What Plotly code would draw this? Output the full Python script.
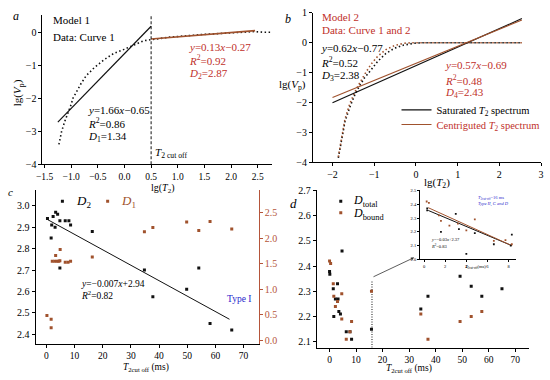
import plotly.graph_objects as go

FONT = "Liberation Serif"
BLACK = "#111111"
BROWN = "#a0522d"
RED = "#c0302a"
BLUE = "#1f1fcc"
RAXIS = "#b5553a"

# ---------------- Panel a : Model 1, Curve 1 ----------------
a_lgT2 = [-1.23, -1.18, -1.12, -1.06, -1.00, -0.97, -0.90, -0.82, -0.72, -0.57, -0.38,
          -0.20, -0.01, 0.17, 0.36, 0.48, 0.85, 1.46, 2.08, 2.44, 2.60, 2.75]
a_lgVp = [-3.40, -3.01, -2.70, -2.45, -2.19, -2.01, -1.79, -1.57, -1.32, -1.08, -0.83,
          -0.64, -0.52, -0.39, -0.26, -0.23, -0.15, -0.07, -0.01, 0.02, 0.0, 0.0]
a_fit1_x = [-1.25, 0.5]
a_fit1_k, a_fit1_b = 1.66, -0.65
a_fit2_x = [0.5, 2.45]
a_fit2_k, a_fit2_b = 0.13, -0.27
a_cutoff = 0.5

# ---------------- Panel b : Model 2, Curves 1 and 2 ----------------
b_sat_x = [-1.86, -1.78, -1.70, -1.58, -1.47, -1.35, -1.23, -1.07, -0.92, -0.72, -0.52,
           -0.29, -0.05, 0.19, 0.6, 1.0, 1.5, 2.0, 2.54]
b_sat_y = [-3.85, -3.17, -2.63, -2.14, -1.76, -1.44, -1.17, -0.90, -0.63, -0.36, -0.19,
           -0.08, -0.02, 0.0, 0.0, 0.0, 0.0, 0.0, 0.0]
b_cen_x = [-1.86, -1.78, -1.70, -1.58, -1.43, -1.23, -1.07, -0.92, -0.72, -0.52, -0.29,
           -0.05, 0.4, 1.0, 1.5, 2.0, 2.54]
b_cen_y = [-3.82, -3.12, -2.55, -2.02, -1.55, -1.06, -0.71, -0.46, -0.23, -0.10, -0.02,
           0.0, 0.0, 0.0, 0.0, 0.0, 0.0]
b_fit_x = [-2.0, 2.54]
b_sat_k, b_sat_b = 0.62, -0.77
b_cen_k, b_cen_b = 0.57, -0.69

# ---------------- Panel c : D2 (left) and D1 (right) ----------------
c_T2_D2 = [0.4, 1.9, 1.7, 2.4, 3.3, 4.0, 3.1, 4.8, 6.7, 8.0, 8.6, 4.8, 16.3, 34.8, 37.8,
           49.8, 54.1, 58.1, 65.8]
c_D2 = [2.94, 2.91, 2.85, 2.95, 2.97, 2.96, 2.90, 2.93, 2.93, 2.93, 2.91, 2.71, 2.88, 2.70,
        2.575, 2.61, 2.71, 2.45, 2.42]
c_T2_D1 = [0.2, 1.7, 1.7, 3.3, 2.1, 3.0, 3.8, 4.4, 4.8, 4.9, 6.7, 7.7, 8.6, 16.3, 34.8,
           37.8, 49.8, 54.1, 58.1, 65.8]
c_D1 = [0.48, 0.41, 0.24, 1.66, 1.55, 1.55, 1.55, 1.55, 1.56, 1.78, 1.53, 1.53, 1.55, 1.63,
        2.13, 2.21, 2.32, 2.15, 2.33, 2.18]
c_fit_x = [0.5, 65.0]
c_fit_y = [2.935, 2.47]

# ---------------- Panel d : D_total and D_bound ----------------
d_T2_tot = [0, 0.1, 4.7, 1.4, 3.0, 2.2, 3.2, 3.0, 3.5, 4.1, 1.6, 6.3, 7.7, 8.3, 15.8, 34.4,
            37.1, 49.2, 53.4, 57.4, 65.0]
d_Dtot = [2.379, 2.368, 2.46, 2.31, 2.33, 2.27, 2.27, 2.26, 2.22, 2.21, 2.20, 2.14, 2.14,
          2.11, 2.15, 2.23, 2.28, 2.36, 2.32, 2.28, 2.31]
d_T2_bnd = [0, 0.4, 1.4, 1.6, 2.2, 3.0, 4.6, 4.6, 8.3, 6.3, 7.7, 15.8, 34.4, 37.1, 49.2,
            53.4, 57.4]
d_Dbnd = [2.42, 2.41, 2.33, 2.28, 2.24, 2.26, 2.29, 2.19, 2.18, 2.11, 2.14, 2.30, 2.21,
          2.11, 2.18, 2.20, 2.22]
d_cutoff = 16
d_cut_y = [2.077, 2.34]

# ---------------- Inset (T2 cut-off < 16 ms) ----------------
i_x_blk = [0.3, 0.3, 1.6, 3.0, 3.3, 4.0, 4.8, 6.6, 8.2, 8.3]
i_y_blk = [2.37, 2.355, 2.20, 2.33, 2.22, 2.04, 2.19, 2.11, 2.10, 2.18]
i_x_brn = [0.25, 0.46, 1.4, 1.6, 2.4, 3.2, 4.0, 4.8, 6.6, 7.7, 8.3]
i_y_brn = [2.42, 2.41, 2.32, 2.28, 2.245, 2.26, 2.21, 2.29, 2.135, 2.14, 2.11]
i_fit_x = [0.4, 8.3]
i_fit_blk = [2.355, 2.10]
i_fit_brn = [2.375, 2.10]


def line_y(xs, k, b):
    return [k * x + b for x in xs]


fig = go.Figure()

# Panel a traces
fig.add_trace(go.Scatter(x=a_lgT2, y=a_lgVp, mode="lines", xaxis="x", yaxis="y",
                         line=dict(color=BLACK, width=1.6, dash="1.5px,2.5px"), showlegend=False))
fig.add_trace(go.Scatter(x=a_fit1_x, y=line_y(a_fit1_x, a_fit1_k, a_fit1_b), mode="lines",
                         xaxis="x", yaxis="y", line=dict(color=BLACK, width=1.2), showlegend=False))
fig.add_trace(go.Scatter(x=a_fit2_x, y=line_y(a_fit2_x, a_fit2_k, a_fit2_b), mode="lines",
                         xaxis="x", yaxis="y", line=dict(color=BROWN, width=1.6), showlegend=False))
fig.add_trace(go.Scatter(x=[a_cutoff, a_cutoff], y=[-4, 0.53], mode="lines", xaxis="x", yaxis="y",
                         line=dict(color=BLACK, width=1, dash="3px,2px"), showlegend=False))

# Panel b traces
fig.add_trace(go.Scatter(x=b_sat_x, y=b_sat_y, mode="lines", xaxis="x2", yaxis="y2",
                         line=dict(color=BLACK, width=1.6, dash="1.5px,2.5px"), showlegend=False))
fig.add_trace(go.Scatter(x=b_cen_x, y=b_cen_y, mode="lines", xaxis="x2", yaxis="y2",
                         line=dict(color=BROWN, width=1.6, dash="1.5px,2.5px"), showlegend=False))
fig.add_trace(go.Scatter(x=b_fit_x, y=line_y(b_fit_x, b_sat_k, b_sat_b), mode="lines",
                         xaxis="x2", yaxis="y2", line=dict(color=BLACK, width=1.1),
                         name="Saturated <i>T</i><sub>2</sub> spectrum", legend="legend"))
fig.add_trace(go.Scatter(x=b_fit_x, y=line_y(b_fit_x, b_cen_k, b_cen_b), mode="lines",
                         xaxis="x2", yaxis="y2", line=dict(color=BROWN, width=1.1),
                         name="<span style='color:%s'>Centriguted <i>T</i><sub>2</sub> spectrum</span>" % RED,
                         legend="legend4"))

# Panel c traces (legend shows the marker only; its label is an annotation)
fig.add_trace(go.Scatter(x=c_fit_x, y=c_fit_y, mode="lines", xaxis="x3", yaxis="y3",
                         line=dict(color=BLACK, width=1), showlegend=False))
fig.add_trace(go.Scatter(x=c_T2_D2, y=c_D2, mode="markers", xaxis="x3", yaxis="y3",
                         marker=dict(color=BLACK, size=3, symbol="square"),
                         name=" ", legend="legend2"))
fig.add_trace(go.Scatter(x=c_T2_D1, y=c_D1, mode="markers", xaxis="x3", yaxis="y6",
                         marker=dict(color=BROWN, size=3, symbol="square"),
                         name=" ", legend="legend5"))

# Panel d traces
fig.add_trace(go.Scatter(x=[d_cutoff, d_cutoff], y=d_cut_y, mode="lines", xaxis="x4", yaxis="y4",
                         line=dict(color=BLACK, width=1, dash="1px,1.5px"), showlegend=False))
fig.add_trace(go.Scatter(x=d_T2_tot, y=d_Dtot, mode="markers", xaxis="x4", yaxis="y4",
                         marker=dict(color=BLACK, size=3, symbol="square"),
                         name=" ", legend="legend3"))
fig.add_trace(go.Scatter(x=d_T2_bnd, y=d_Dbnd, mode="markers", xaxis="x4", yaxis="y4",
                         marker=dict(color=BROWN, size=3, symbol="square"),
                         name=" ", legend="legend6"))

# Inset traces
fig.add_trace(go.Scatter(x=i_fit_x, y=i_fit_blk, mode="lines", xaxis="x5", yaxis="y5",
                         line=dict(color=BLACK, width=1), showlegend=False))
fig.add_trace(go.Scatter(x=i_fit_x, y=i_fit_brn, mode="lines", xaxis="x5", yaxis="y5",
                         line=dict(color=BROWN, width=1), showlegend=False))
fig.add_trace(go.Scatter(x=i_x_blk, y=i_y_blk, mode="markers", xaxis="x5", yaxis="y5",
                         marker=dict(color=BLACK, size=1.8, symbol="square"), showlegend=False))
fig.add_trace(go.Scatter(x=i_x_brn, y=i_y_brn, mode="markers", xaxis="x5", yaxis="y5",
                         marker=dict(color=BROWN, size=1.8, symbol="square"), showlegend=False))


def axis(**kw):
    d = dict(showgrid=False, zeroline=False, showline=True, linecolor="black", linewidth=1,
             ticks="outside", ticklen=3, tickwidth=1, tickcolor="black",
             tickfont=dict(size=10, color="black", family=FONT))
    d.update(kw)
    return d


W, H = 550, 380


def px(x):
    return x / W


def py(y):
    return 1 - y / H


def leg(x, y, size):
    return dict(x=px(x), y=py(y), xanchor="left", yanchor="middle", bgcolor="rgba(0,0,0,0)",
                font=dict(size=size, family=FONT, color="black"), itemwidth=30,
                tracegroupgap=0)


fig.update_layout(
    width=W, height=H, margin=dict(l=0, r=0, t=0, b=0),
    paper_bgcolor="white", plot_bgcolor="white",
    font=dict(family=FONT, color="black", size=10),
    xaxis=axis(domain=[px(37), px(270)], range=[-1.54, 2.76], anchor="y", tick0=-1.5, dtick=0.5,
               tickformat=".1f", tickfont=dict(size=9.5, color="black", family=FONT)),
    yaxis=axis(domain=[py(164), py(10)], range=[-4, 0.53], anchor="x", dtick=1),
    xaxis2=axis(domain=[px(312), px(544)], range=[-2.47, 3], anchor="y2", dtick=1),
    yaxis2=axis(domain=[py(162), py(8)], range=[-4, 1], anchor="x2", dtick=1),
    xaxis3=axis(domain=[px(30), px(257)], range=[-3.85, 75.4], anchor="y3", tick0=0, dtick=10,
                tickfont=dict(size=9.5, color="black", family=FONT)),
    yaxis3=axis(domain=[py(349), py(190)], range=[2.355, 3.076], anchor="x3", dtick=0.1,
                tickformat=".1f"),
    yaxis6=axis(overlaying="y3", side="right", anchor="x3", range=[-0.076, 2.958], dtick=0.5,
                tick0=0, tickformat=".1f", linecolor=RAXIS, tickcolor=RAXIS,
                tickfont=dict(size=10, color=RAXIS, family=FONT)),
    xaxis4=axis(domain=[px(316), px(532)], range=[-4.8, 75.3], anchor="y4", tick0=0, dtick=10,
                tickfont=dict(size=9.5, color="black", family=FONT)),
    yaxis4=axis(domain=[py(353), py(190)], range=[2.076, 2.704], anchor="x4", dtick=0.1,
                tickformat=".1f"),
    xaxis5=axis(domain=[px(421), px(518)], range=[-0.37, 8.65], anchor="y5", tick0=0, dtick=2,
                ticklen=2, tickfont=dict(size=4.5, color="black", family=FONT)),
    yaxis5=axis(domain=[py(262), py(190)], range=[2.0, 2.507], anchor="x5", dtick=0.1,
                tickformat=".1f", ticklen=2, tickfont=dict(size=4.5, color="black", family=FONT)),
    legend=leg(397, 108, 10.5),
    legend4=leg(397, 123, 10.5),
    legend2=leg(37, 202, 10),
    legend5=leg(83, 202, 10),
    legend3=leg(320, 202, 10),
    legend6=leg(320, 214, 10),
)


def ann(text, x, y, size=11, color="black", xanchor="left", **kw):
    fig.add_annotation(text=text, x=px(x), y=py(y), xref="paper", yref="paper",
                       xanchor=xanchor, yanchor="middle", showarrow=False,
                       font=dict(size=size, color=color, family=FONT), **kw)


# Panel a annotations
ann("<i>a</i>", 10, 11, size=12, xanchor="center")
ann("Model 1", 46, 15)
ann("Data: Curve 1", 46, 33)
ann("<i>y</i>=0.13<i>x</i>−0.27", 184, 43, color=RED)
ann("<i>R</i><sup>2</sup>=0.92", 184, 57, color=RED)
ann("<i>D</i><sub>2</sub>=2.87", 184, 71, color=RED)
ann("<i>y</i>=1.66<i>x</i>−0.65", 81, 108)
ann("<i>R</i><sup>2</sup>=0.86", 81, 122)
ann("<i>D</i><sub>1</sub>=1.34", 81, 136)
ann("<i>T</i><sub>2 cut off</sub>", 149, 152, size=11)
ann("lg(<i>T</i><sub>2</sub>)", 160, 189, size=10, xanchor="center")
ann("lg(<i>V</i><sub>p</sub>)", 13, 90, size=11, xanchor="center", textangle=-90)

# Panel b annotations
ann("<i>b</i>", 287, 14, size=12, xanchor="center")
ann("Model 2", 319, 12, color=RED)
ann("Data: Curve 1 and 2", 319, 26, color=RED)
ann("<i>y</i>=0.62<i>x</i>−0.77", 318, 44)
ann("<i>R</i><sup>2</sup>=0.52", 318, 59)
ann("<i>D</i><sub>3</sub>=2.38", 318, 73)
ann("<i>y</i>=0.57<i>x</i>−0.69", 444, 62, color=RED)
ann("<i>R</i><sup>2</sup>=0.48", 444, 77, color=RED)
ann("<i>D</i><sub>4</sub>=2.43", 444, 91, color=RED)
ann("lg(<i>T</i><sub>2</sub>)", 438, 183, size=11, xanchor="center")
ann("lg(<i>V</i><sub>p</sub>)", 275, 82, size=11)

# Panel c annotations
ann("<i>c</i>", 5, 193, size=11, xanchor="center")
ann("<i>D</i><sub>2</sub>", 69, 202, size=13)
ann("<i>D</i><sub>1</sub>", 115, 202, size=13, color=BROWN)
ann("<i>y</i>=−0.007<i>x</i>+2.94", 74, 287, size=9.5)
ann("<i>R</i><sup>2</sup>=0.82", 74, 299, size=9.5)
ann("Type I", 223, 303, size=9.5, color=BLUE)
ann("<i>T</i><sub>2cut off</sub> (ms)", 142, 373, size=9.5, xanchor="center")

# Panel d annotations
ann("<i>d</i>", 292, 204, size=13, xanchor="center")
ann("<i>D</i><sub>total</sub>", 351, 202, size=12)
ann("<i>D</i><sub>bound</sub>", 351, 215, size=12)
ann("<i>T</i><sub>2cut off</sub> (ms)", 410, 374, size=9.5, xanchor="center")

# Inset annotations
ann("<i>y</i>=−0.03<i>x</i>+2.37", 430, 242, size=4.5)
ann("<i>R</i><sup>2</sup>=0.83", 430, 248, size=4.5)
ann("<i>T</i><sub>2cut-off</sub>=16 ms", 478, 199, size=4.5, color=BLUE)
ann("<i>Type II, C and D</i>", 478, 205, size=4.5, color=BLUE)
ann("<i>T</i><sub>2cut-off</sub>(ms)", 477, 270, size=4.5, xanchor="center")

# Arrow from the cut-off line in panel d to the inset
fig.add_annotation(x=31.9, y=2.434, xref="x4", yref="y4", ax=d_cutoff, ay=2.355,
                   axref="x4", ayref="y4", showarrow=True, arrowhead=2, arrowsize=0.8,
                   arrowwidth=0.8, arrowcolor="#333333", text="")

fig.write_html("out.html", config={"displayModeBar": False},
               post_script="document.body.style.margin='0px';")
